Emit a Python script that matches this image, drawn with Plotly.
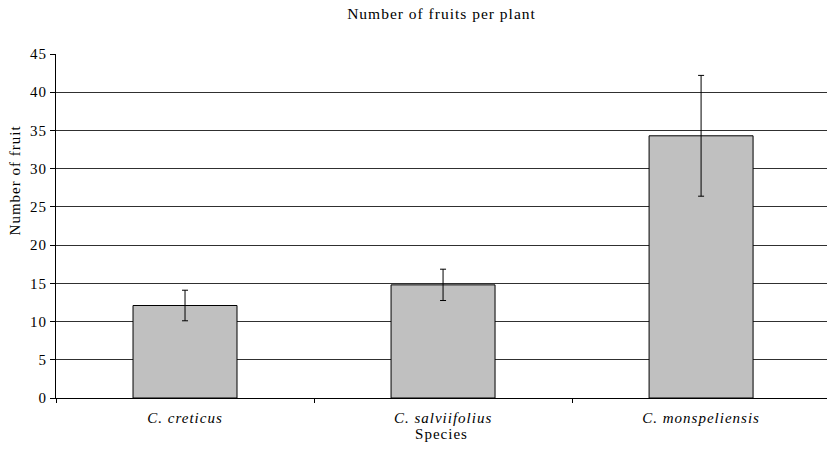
import plotly.graph_objects as go

species = ["C. creticus", "C. salviifolius", "C. monspeliensis"]
fruits = [12.1, 14.8, 34.3]
errors = [2.0, 2.05, 7.9]
yticks = [0, 5, 10, 15, 20, 25, 30, 35, 40, 45]

FONT = "Liberation Serif, Times New Roman, serif"

fig = go.Figure()
fig.add_trace(go.Bar(
    x=species, y=fruits,
    width=0.403,
    marker=dict(color="#C0C0C0", line=dict(color="#000000", width=1)),
    error_y=dict(type="data", array=errors, visible=True, color="#000000",
                 thickness=1, width=3),
))

fig.update_layout(
    width=827, height=451,
    margin=dict(l=56, r=0, t=54, b=53, autoexpand=False),
    paper_bgcolor="white", plot_bgcolor="white",
    showlegend=False,
    font=dict(family=FONT, color="#000000", size=15),
    title=dict(text="Number of fruits per plant", xref="paper", x=0.5, xanchor="center",
               y=0.969, yanchor="middle", font=dict(size=15.5, family=FONT)),
    xaxis=dict(
        range=[-0.5, 2.488], automargin=False,
        tickmode="array", tickvals=species,
        ticktext=["<i>" + s + "</i>" for s in species],
        tickson="boundaries", ticks="outside", ticklen=4, tickcolor="#000",
        ticklabelstandoff=6,
        showline=True, linecolor="#000", linewidth=1,
        showgrid=False,
        tickfont=dict(size=15, family=FONT),
        title=dict(text="Species", font=dict(size=15, family=FONT), standoff=2),
    ),
    yaxis=dict(
        range=[0, 45], tickvals=yticks, automargin=False,
        ticks="outside", ticklen=5, tickcolor="#000",
        showline=True, linecolor="#000", linewidth=1,
        showgrid=True, gridcolor="#303030", gridwidth=1,
        zeroline=False,
        tickfont=dict(size=15, family=FONT),
    ),
    annotations=[dict(
        text="Number of fruit", textangle=-90, showarrow=False,
        xref="paper", yref="paper", x=-0.054, y=0.635,
        xanchor="center", yanchor="middle",
        font=dict(size=15, family=FONT),
    )],
)

post = """
document.body.style.margin = '0';
document.body.style.padding = '0';
var gd = document.getElementById('{plot_id}');
gd.querySelectorAll('text').forEach(function(t){ t.style.letterSpacing = '1px'; });
"""
fig.write_html("out.html", post_script=post, config={"displayModeBar": False})
